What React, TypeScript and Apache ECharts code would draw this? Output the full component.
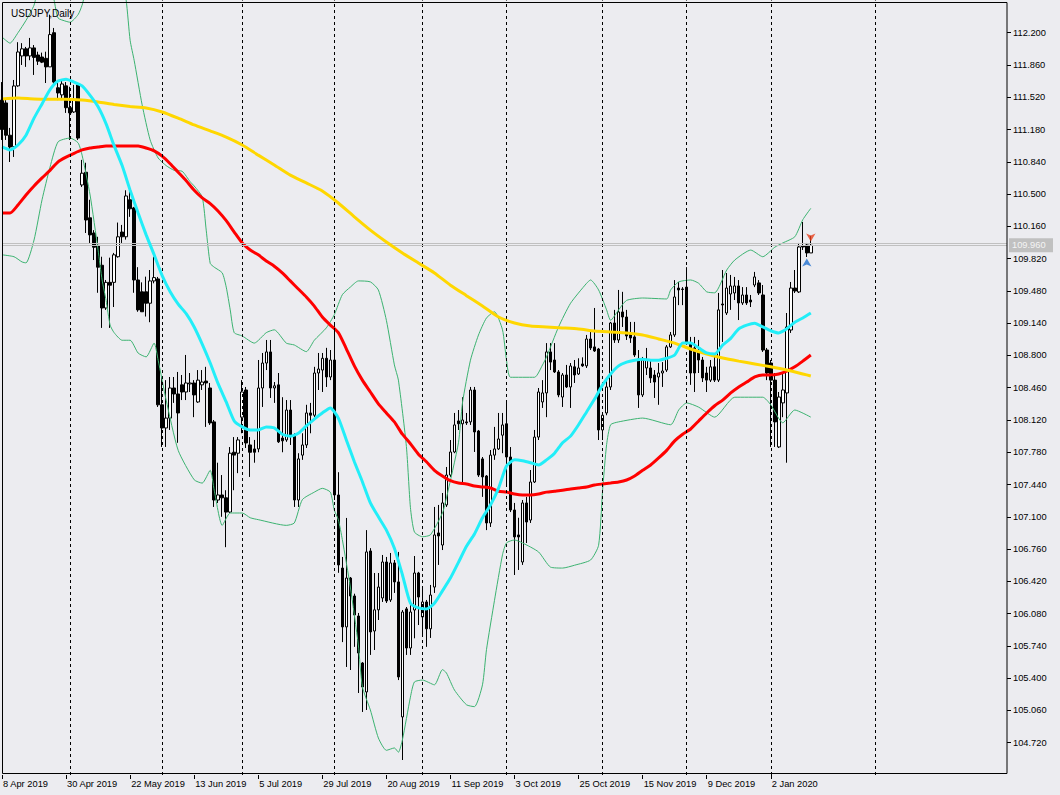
import React, { useEffect, useRef } from "react";
import * as echarts from "echarts";

const TITLE = "USDJPY,Daily";
const MONTHS = ["Jan", "Feb", "Mar", "Apr", "May", "Jun", "Jul", "Aug", "Sep", "Oct", "Nov", "Dec"];
const BAR_COUNT = 203;
const SLOT_COUNT = 252;
const LABEL_STEP = 16;
const SEPARATORS = [17, 40, 60, 83, 105, 126, 150, 171, 192, 218];
const Y_MIN = 104.38;
const Y_MAX = 112.54;
const Y_STEP = 0.34;
const BID = 109.96;
const ASK = 109.98;
const FONT = "Liberation Sans, Arial, sans-serif";

const opens = [
  111.49, 111.46, 111.12, 111.0, 111.64, 111.955, 112.03, 111.955, 112.04, 111.965, 111.944, 111.93, 111.84, 112.2, 111.62, 111.545, 111.64, 111.41, 111.365, 111.65,
  110.596, 110.73, 110.25, 110.09, 109.96, 109.75, 109.3, 109.57, 109.57, 109.84, 110.1, 110.05, 110.44, 110.354, 109.595, 109.47, 109.47, 109.35, 109.585, 109.606,
  108.28, 108.036, 108.14, 108.457, 108.394, 108.49, 108.415, 108.5, 108.51, 108.31, 108.49, 108.53, 108.457, 108.1, 107.277, 107.33, 107.3, 107.15, 107.78, 107.77,
  108.15, 108.436, 107.857, 107.815, 107.815, 108.457, 108.72, 108.837, 108.457, 108.49, 107.93, 107.91, 108.225, 107.96, 107.277, 107.75, 107.857, 108.194, 108.17, 108.615,
  108.646, 108.77, 108.573, 108.752, 107.33, 106.56, 105.94, 106.455, 106.266, 106.055, 105.56, 105.255, 106.74, 105.897, 106.12, 106.245, 106.624, 106.224, 106.614, 106.414,
  104.992, 106.13, 105.718, 106.118, 106.508, 106.045, 106.203, 105.92, 106.36, 106.93, 106.803, 107.225, 107.54, 107.783, 108.11, 108.08, 108.1, 108.1, 108.436, 108.004,
  107.71, 107.53, 107.035, 107.75, 107.815, 107.96, 108.08, 107.73, 107.172, 106.909, 106.624, 107.246, 107.066, 107.467, 107.94, 108.31, 108.405, 108.837, 108.752, 108.626,
  108.362, 108.594, 108.468, 108.68, 108.605, 108.71, 108.69, 108.973, 108.89, 108.868, 108.015, 108.194, 108.468, 109.142, 108.963, 109.258, 109.205, 109.037, 108.995, 108.763,
  108.384, 108.668, 108.668, 108.594, 108.573, 108.615, 108.646, 108.89, 109.016, 109.51, 109.5, 109.52, 108.93, 108.879, 108.837, 108.752, 108.615, 108.54, 108.68, 108.54,
  109.342, 109.247, 109.447, 109.458, 109.532, 109.353, 109.437, 109.384, 109.542, 109.564, 109.437, 108.857, 108.72, 108.54, 107.836, 108.3, 108.405, 109.068, 109.51, 109.469,
  109.953, 109.964, 109.88,
];
const closes = [
  111.18, 111.12, 110.996, 111.639, 111.997, 112.03, 111.955, 112.04, 111.94, 111.9, 111.89, 111.84, 112.18, 111.68, 111.565, 111.66, 111.41, 111.355, 111.49, 111.09,
  110.72, 110.227, 110.07, 109.94, 109.73, 109.3, 109.57, 109.54, 109.86, 110.05, 110.05, 110.48, 110.345, 109.595, 109.28, 109.26, 109.35, 109.585, 109.62, 108.28,
  108.036, 108.14, 108.457, 108.394, 108.194, 108.415, 108.51, 108.51, 108.384, 108.54, 108.52, 108.51, 108.089, 107.277, 107.33, 107.3, 107.15, 107.77, 107.75, 107.91,
  108.415, 107.878, 107.78, 107.78, 108.457, 108.72, 108.837, 108.457, 108.48, 107.89, 107.9, 108.225, 107.96, 107.277, 107.71, 107.857, 108.194, 108.17, 108.615, 108.657,
  108.77, 108.573, 108.752, 107.33, 106.593, 105.94, 106.455, 106.266, 106.066, 105.665, 105.307, 106.73, 105.887, 106.12, 106.36, 106.624, 106.213, 106.614, 106.414, 105.413,
  106.097, 105.718, 106.097, 106.508, 106.255, 106.203, 105.92, 106.276, 106.909, 106.898, 107.246, 107.54, 107.783, 108.068, 108.08, 108.12, 108.09, 108.436, 107.994, 107.54,
  107.52, 107.035, 107.75, 107.815, 107.92, 108.068, 107.73, 107.172, 106.888, 106.888, 107.246, 107.045, 107.467, 107.94, 108.415, 108.405, 108.837, 108.73, 108.626, 108.384,
  108.594, 108.468, 108.689, 108.594, 108.668, 108.69, 108.973, 108.879, 108.847, 108.015, 108.17, 108.468, 109.142, 108.963, 109.258, 109.205, 109.005, 108.984, 108.805, 108.384,
  108.752, 108.752, 108.563, 108.52, 108.615, 108.636, 108.89, 109.016, 109.416, 109.49, 109.495, 108.942, 108.615, 108.615, 108.752, 108.563, 108.54, 108.68, 108.54, 109.28,
  109.332, 109.51, 109.532, 109.532, 109.353, 109.437, 109.353, 109.363, 109.627, 109.458, 108.857, 108.615, 108.54, 108.1, 108.362, 108.436, 109.1, 109.51, 109.479, 109.943,
  109.943, 109.88, 109.96,
];
const lows = [
  111.07, 111.07, 110.838, 110.891, 111.63, 111.86, 111.84, 111.91, 111.755, 111.86, 111.88, 111.67, 111.84, 111.63, 111.49, 111.49, 111.355, 111.07, 111.355, 111.07,
  110.575, 110.09, 109.985, 109.805, 109.46, 109.09, 109.28, 109.09, 109.31, 109.83, 109.985, 110.02, 110.26, 109.46, 109.26, 109.26, 109.21, 109.15, 109.56, 108.257,
  107.836, 107.836, 108.015, 108.3, 107.88, 108.33, 108.33, 108.415, 108.15, 108.3, 108.436, 108.047, 108.068, 107.204, 107.246, 107.1, 106.78, 107.14, 107.38, 107.56,
  107.98, 107.825, 107.52, 107.67, 107.78, 108.257, 108.646, 108.352, 108.3, 107.878, 107.78, 107.89, 107.857, 107.204, 107.204, 107.7, 107.825, 107.98, 108.15, 108.436,
  108.415, 108.468, 108.54, 107.277, 106.51, 105.78, 105.518, 105.486, 105.73, 105.244, 105.044, 105.065, 105.645, 105.697, 106.013, 106.203, 106.192, 106.203, 106.298, 105.38,
  104.538, 105.645, 105.645, 105.82, 105.96, 105.834, 105.73, 105.824, 106.298, 106.593, 106.75, 107.204, 107.52, 107.77, 108.015, 107.46, 108.068, 108.068, 107.783, 107.52,
  107.31, 106.96, 106.993, 107.7, 107.804, 107.77, 107.42, 107.15, 106.487, 106.54, 106.593, 106.824, 107.035, 107.456, 107.909, 108.247, 108.15, 108.646, 108.615, 108.36,
  108.257, 108.457, 108.247, 108.51, 108.594, 108.68, 108.668, 108.857, 108.837, 107.909, 107.909, 108.17, 108.436, 108.932, 108.932, 109.1, 108.963, 108.932, 108.784, 108.247,
  108.362, 108.594, 108.51, 108.352, 108.28, 108.468, 108.626, 108.879, 108.995, 109.33, 109.33, 108.91, 108.49, 108.415, 108.615, 108.52, 108.415, 108.52, 108.52, 108.52,
  108.942, 109.226, 109.28, 109.384, 109.173, 109.332, 109.332, 109.31, 109.52, 109.437, 108.837, 108.54, 107.836, 107.836, 107.825, 108.15, 107.67, 109.037, 109.458, 109.458,
  109.911, 109.837, 109.88,
];
const highs = [
  111.68, 111.49, 111.197, 111.702, 112.1, 112.09, 112.05, 112.145, 112.07, 112.0, 111.99, 112.0, 112.39, 112.25, 111.7, 111.7, 111.68, 111.63, 111.65, 111.67,
  110.86, 110.83, 110.44, 110.12, 110.05, 109.84, 109.595, 109.83, 109.88, 110.2, 110.175, 110.54, 110.575, 110.365, 109.73, 109.57, 109.63, 109.7, 109.84, 109.627,
  108.573, 108.54, 108.573, 108.573, 108.626, 108.594, 108.805, 108.615, 108.54, 108.646, 108.646, 108.68, 108.51, 108.12, 107.67, 107.54, 107.38, 107.835, 107.94, 107.94,
  108.54, 108.468, 107.94, 107.91, 108.752, 108.826, 108.963, 108.963, 108.52, 108.615, 108.36, 108.33, 108.33, 107.98, 107.77, 107.98, 108.28, 108.3, 108.68, 108.826,
  108.826, 108.88, 108.857, 109.12, 107.57, 106.677, 107.088, 106.466, 106.29, 106.087, 105.57, 106.96, 106.77, 106.508, 106.508, 106.698, 106.677, 106.719, 106.645, 106.73,
  106.118, 106.15, 106.17, 106.687, 106.52, 106.36, 106.224, 106.382, 107.204, 107.225, 107.351, 107.625, 107.909, 108.194, 108.225, 108.36, 108.194, 108.468, 108.468, 108.015,
  107.73, 107.54, 107.804, 108.047, 108.194, 108.194, 108.33, 107.835, 107.246, 107.09, 107.277, 107.31, 107.593, 108.015, 108.457, 108.54, 108.93, 108.93, 108.93, 108.646,
  108.615, 108.7, 108.72, 108.752, 108.77, 108.78, 109.016, 109.068, 109.3, 108.879, 108.194, 108.54, 109.153, 109.28, 109.49, 109.47, 109.28, 109.153, 109.153, 108.857,
  108.784, 108.879, 108.752, 108.646, 108.72, 108.73, 108.91, 109.047, 109.594, 109.574, 109.52, 109.73, 108.995, 108.995, 108.963, 108.784, 108.68, 108.752, 108.784, 109.458,
  109.7, 109.669, 109.648, 109.627, 109.594, 109.52, 109.52, 109.437, 109.68, 109.594, 109.542, 108.879, 108.752, 108.615, 108.415, 108.615, 109.247, 109.574, 109.7, 109.985,
  110.206, 109.985, 110.06,
];

// [bar index, price]
const maFast: [number, number][] = [
  [0, 110.996], [2, 110.965], [4, 111.017], [6, 111.12], [8, 111.3], [10, 111.45], [12, 111.6], [14, 111.69], [16, 111.71], [18, 111.68],
  [20, 111.64], [22, 111.54], [24, 111.42], [26, 111.24], [28, 111.01], [30, 110.8], [32, 110.54], [34, 110.3], [36, 110.07], [38, 109.86],
  [40, 109.64], [42, 109.47], [44, 109.34], [46, 109.24], [48, 109.1], [50, 108.92], [52, 108.72], [54, 108.5], [56, 108.31], [58, 108.11],
  [60, 108.047], [62, 108.015], [64, 108.015], [66, 108.047], [68, 108.036], [70, 107.97], [72, 107.95], [74, 107.98], [76, 108.057], [78, 108.13],
  [80, 108.194], [82, 108.247], [84, 108.14], [86, 107.91], [88, 107.68], [90, 107.47], [92, 107.246], [94, 107.1], [96, 106.96], [98, 106.77],
  [100, 106.49], [102, 106.19], [104, 106.14], [106, 106.13], [108, 106.19], [110, 106.32], [112, 106.455], [114, 106.62], [116, 106.79], [118, 106.92],
  [120, 107.09], [122, 107.225], [124, 107.4], [126, 107.635], [128, 107.7], [130, 107.69], [132, 107.67], [134, 107.646], [136, 107.7], [138, 107.77],
  [140, 107.88], [142, 107.95], [144, 108.07], [146, 108.205], [148, 108.34], [150, 108.49], [152, 108.605], [154, 108.69], [156, 108.73], [158, 108.75],
  [160, 108.76], [162, 108.75], [164, 108.75], [166, 108.77], [168, 108.805], [170, 108.93], [172, 108.93], [174, 108.88], [176, 108.826], [178, 108.815],
  [180, 108.91], [182, 108.98], [184, 109.08], [186, 109.12], [188, 109.14], [190, 109.1], [192, 109.06], [194, 109.037], [196, 109.08], [198, 109.15],
  [200, 109.195], [202, 109.247],
];
const maMid: [number, number][] = [
  [0, 110.3], [2, 110.3], [4, 110.385], [6, 110.49], [8, 110.585], [10, 110.67], [12, 110.75], [14, 110.84], [16, 110.89], [18, 110.93],
  [20, 110.965], [22, 110.985], [24, 110.996], [26, 111.007], [28, 111.007], [30, 111.007], [32, 111.007], [34, 111.007], [36, 110.985], [38, 110.955],
  [40, 110.9], [42, 110.82], [44, 110.73], [46, 110.64], [48, 110.54], [50, 110.46], [52, 110.4], [54, 110.32], [56, 110.22], [58, 110.1],
  [60, 109.985], [62, 109.91], [64, 109.86], [66, 109.795], [68, 109.74], [70, 109.67], [72, 109.585], [74, 109.5], [76, 109.416], [78, 109.32],
  [80, 109.205], [82, 109.12], [84, 109.04], [86, 108.87], [88, 108.69], [90, 108.54], [92, 108.415], [94, 108.29], [96, 108.194], [98, 108.1],
  [100, 107.97], [102, 107.87], [104, 107.76], [106, 107.68], [108, 107.59], [110, 107.53], [112, 107.48], [114, 107.456], [116, 107.446], [118, 107.425],
  [120, 107.415], [122, 107.404], [124, 107.37], [126, 107.36], [128, 107.34], [130, 107.33], [132, 107.33], [134, 107.34], [136, 107.36], [138, 107.37],
  [140, 107.38], [142, 107.393], [144, 107.404], [146, 107.415], [148, 107.435], [150, 107.446], [152, 107.456], [154, 107.467], [156, 107.488], [158, 107.53],
  [160, 107.59], [162, 107.646], [164, 107.72], [166, 107.8], [168, 107.9], [170, 107.97], [172, 108.025], [174, 108.11], [176, 108.194], [178, 108.27],
  [180, 108.33], [182, 108.405], [184, 108.468], [186, 108.52], [188, 108.573], [190, 108.594], [192, 108.594], [194, 108.605], [196, 108.636], [198, 108.68],
  [200, 108.74], [202, 108.805],
];
const maSlow: [number, number][] = [
  [0, 111.502], [4, 111.512], [8, 111.502], [12, 111.5], [16, 111.5], [20, 111.49], [24, 111.47], [28, 111.444], [32, 111.423], [36, 111.407],
  [40, 111.365], [44, 111.3], [48, 111.228], [52, 111.165], [56, 111.1], [60, 111.017], [64, 110.91], [68, 110.807], [72, 110.7], [76, 110.617],
  [80, 110.533], [84, 110.406], [88, 110.26], [92, 110.12], [96, 109.995], [100, 109.88], [104, 109.774], [108, 109.669], [112, 109.54], [116, 109.43],
  [120, 109.32], [124, 109.205], [128, 109.142], [132, 109.11], [136, 109.1], [140, 109.09], [144, 109.079], [148, 109.058], [152, 109.047], [156, 109.037],
  [160, 109.016], [164, 108.974], [168, 108.93], [172, 108.868], [176, 108.815], [180, 108.773], [184, 108.74], [188, 108.71], [192, 108.68], [196, 108.646],
  [200, 108.605], [202, 108.584],
];
const bbUpper: [number, number][] = [
  [0, 112.155], [2, 112.09], [4, 112.2], [6, 112.33], [8, 112.49], [10, 112.81], [12, 112.7], [13, 112.545], [14, 112.355], [16, 112.32],
  [17, 112.31], [19, 112.39], [20, 112.49], [21, 112.65], [24, 112.97], [28, 112.97], [30, 112.7], [31, 112.545], [32, 112.12], [33, 111.91],
  [35, 111.44], [37, 111.07], [39, 110.88], [41, 110.8], [43, 110.75], [45, 110.74], [47, 110.63], [48, 110.585], [50, 110.47], [51, 110.12],
  [52, 109.77], [53, 109.73], [55, 109.67], [56, 109.52], [57, 109.28], [58, 109.04], [60, 109.005], [63, 108.93], [66, 109.04], [68, 109.07],
  [71, 108.93], [73, 108.91], [76, 108.84], [78, 108.96], [81, 109.09], [83, 109.23], [85, 109.44], [87, 109.52], [89, 109.585], [92, 109.575],
  [94, 109.49], [96, 109.17], [98, 108.7], [99, 108.54], [101, 107.84], [102, 107.2], [103, 106.94], [105, 106.89], [107, 106.91], [110, 107.14],
  [111, 107.3], [114, 107.88], [115, 108.3], [117, 108.75], [119, 109.015], [121, 109.195], [123, 109.26], [125, 109.07], [126, 108.75], [127, 108.57],
  [133, 108.57], [135, 108.7], [136, 108.785], [139, 109.1], [142, 109.35], [146, 109.56], [147, 109.595], [149, 109.49], [151, 109.28], [152, 109.17],
  [154, 109.28], [156, 109.38], [160, 109.405], [166, 109.395], [167, 109.49], [169, 109.575], [172, 109.595], [174, 109.56], [176, 109.47], [178, 109.46],
  [181, 109.7], [183, 109.805], [187, 109.91], [190, 109.84], [193, 109.94], [195, 109.985], [198, 110.05], [200, 110.23], [202, 110.35],
];
const bbLower: [number, number][] = [
  [0, 109.86], [3, 109.84], [5, 109.785], [6, 109.775], [8, 110.016], [10, 110.44], [12, 110.785], [14, 111.05], [17, 111.09], [19, 111.04],
  [20, 110.91], [22, 110.49], [24, 109.91], [25, 109.595], [26, 109.38], [27, 109.12], [28, 109.04], [30, 108.96], [32, 108.96], [34, 108.825],
  [36, 108.785], [38, 108.93], [39, 108.75], [41, 108.33], [44, 107.8], [48, 107.49], [50, 107.455], [52, 107.59], [53, 107.38], [55, 107.01],
  [57, 107.14], [60, 107.14], [62, 107.09], [64, 107.07], [71, 107.01], [73, 107.035], [75, 107.28], [78, 107.36], [80, 107.4], [82, 107.36],
  [83, 107.17], [84, 107.07], [85, 106.86], [87, 106.36], [89, 105.75], [90, 105.31], [92, 105.065], [94, 104.77], [96, 104.64], [98, 104.665],
  [99, 104.62], [100, 104.75], [102, 105.2], [103, 105.36], [105, 105.38], [108, 105.33], [110, 105.49], [111, 105.455], [113, 105.275], [116, 105.12],
  [118, 105.1], [120, 105.33], [121, 105.7], [123, 106.22], [125, 106.7], [126, 106.825], [128, 106.856], [130, 106.825], [134, 106.73], [137, 106.57],
  [140, 106.56], [143, 106.59], [147, 106.645], [149, 106.8], [150, 107.38], [151, 107.86], [152, 108.07], [154, 108.1], [160, 108.14], [167, 108.07],
  [169, 108.225], [171, 108.3], [174, 108.255], [178, 108.15], [183, 108.36], [190, 108.36], [192, 108.28], [195, 108.09], [198, 108.225], [202, 108.15],
];
const sellArrow: [number, number] = [202, 110.0];
const buyArrow: [number, number] = [201, 109.82];

function buildCategories(): string[] {
  const out: string[] = [];
  const d = new Date(Date.UTC(2019, 3, 8));
  const skip = new Set(["2019-12-25", "2020-01-01"]);
  const extra = new Set(["2019-10-27"]);
  while (out.length < BAR_COUNT) {
    const key = d.toISOString().slice(0, 10);
    const wd = d.getUTCDay();
    if ((wd !== 0 && wd !== 6 && !skip.has(key)) || extra.has(key)) {
      out.push(`${d.getUTCDate()} ${MONTHS[d.getUTCMonth()]} ${d.getUTCFullYear()}`);
    }
    d.setUTCDate(d.getUTCDate() + 1);
  }
  for (let i = BAR_COUNT; i < SLOT_COUNT; i++) out.push(`slot${i}`);
  return out;
}

export default function App() {
  const ref = useRef<HTMLDivElement>(null);
  useEffect(() => {
    document.body.style.margin = "0";
    if (!ref.current) return;
    const chart = echarts.init(ref.current, undefined, { renderer: "svg" });
    const categories = buildCategories();
    const candles = opens.map((o, i) => [o, closes[i], lows[i], highs[i]]);
    const showIdx = (i: number) => i % LABEL_STEP === 0 && i < BAR_COUNT;
    const lineBase = { type: "line", showSymbol: false, silent: true, smooth: 0.2, z: 3 };

    chart.setOption({
      animation: false,
      backgroundColor: "#ececf0",
      title: {
        text: TITLE,
        left: 6,
        top: 3,
        textStyle: { fontSize: 10, fontWeight: "normal", color: "#000", fontFamily: FONT },
      },
      grid: { left: 2, right: 53, top: 0.43, bottom: 20 },
      xAxis: {
        type: "category",
        data: categories,
        boundaryGap: false,
        axisLine: { show: false },
        axisTick: { show: true, length: 4, interval: showIdx, lineStyle: { color: "#000" } },
        axisLabel: {
          interval: showIdx,
          align: "left",
          margin: 4,
          color: "#000",
          fontSize: 9.3,
          fontFamily: FONT,
          padding: [0, 0, 0, 1],
        },
        splitLine: { show: false },
      },
      yAxis: {
        type: "value",
        position: "right",
        min: Y_MIN,
        max: Y_MAX,
        interval: Y_STEP,
        axisLine: { show: false },
        axisTick: { show: true, length: 4, lineStyle: { color: "#000" } },
        axisLabel: {
          margin: 6,
          color: "#000",
          fontSize: 9.3,
          fontFamily: FONT,
          showMinLabel: false,
          showMaxLabel: false,
          formatter: (v: number) => v.toFixed(3),
        },
        splitLine: { show: false },
      },
      series: [
        {
          type: "candlestick",
          data: candles,
          barWidth: 3,
          z: 2,
          itemStyle: {
            color: "#ffffff",
            color0: "#000000",
            borderColor: "#000000",
            borderColor0: "#000000",
            borderWidth: 1,
          },
          markLine: {
            silent: true,
            symbol: ["none", "none"],
            label: { show: false },
            data: [
              ...SEPARATORS.map((s) => ({ xAxis: s, lineStyle: { color: "#000", type: [3, 3], width: 1 } })),
              { yAxis: BID, lineStyle: { color: "#c0c0c0", type: "solid", width: 1 } },
              { yAxis: ASK, lineStyle: { color: "#c0c0c0", type: "solid", width: 1 } },
            ],
          },
        },
        { ...lineBase, name: "bbUpper", data: bbUpper, lineStyle: { color: "#3cb371", width: 1 } },
        { ...lineBase, name: "bbLower", data: bbLower, lineStyle: { color: "#3cb371", width: 1 } },
        { ...lineBase, name: "maMid", data: maMid, lineStyle: { color: "#ff0000", width: 3 }, z: 4 },
        { ...lineBase, name: "maSlow", data: maSlow, lineStyle: { color: "#ffd700", width: 3 }, z: 5 },
        { ...lineBase, name: "maFast", data: maFast, lineStyle: { color: "#22eef8", width: 3 }, z: 6 },
        {
          type: "scatter",
          silent: true,
          z: 7,
          data: [
            { value: sellArrow, symbol: "arrow", symbolRotate: 180, symbolSize: [7, 8], itemStyle: { color: "#e8401c" } },
            { value: buyArrow, symbol: "arrow", symbolSize: [7, 8], itemStyle: { color: "#1f6fd0" } },
          ],
        },
      ],
    });

    const by = chart.convertToPixel({ yAxisIndex: 0 }, BID) as number;
    chart.setOption({
      graphic: [
        {
          type: "rect",
          silent: true,
          shape: { x: 2.5, y: 2.5, width: 1004.5, height: 771 },
          style: { fill: "none", stroke: "#000", lineWidth: 1 },
          z: 10,
        },
        {
          type: "rect",
          silent: true,
          shape: { x: 1009, y: by - 7, width: 44, height: 14 },
          style: { fill: "#c0c0c0" },
          z: 10,
        },
        {
          type: "text",
          silent: true,
          x: 1012,
          y: by,
          style: {
            text: BID.toFixed(3),
            fill: "#f4f4f4",
            fontSize: 9.3,
            fontFamily: FONT,
            verticalAlign: "middle",
          },
          z: 11,
        },
      ],
    });

    return () => chart.dispose();
  }, []);
  return <div ref={ref} style={{ width: 1060, height: 795 }} />;
}
